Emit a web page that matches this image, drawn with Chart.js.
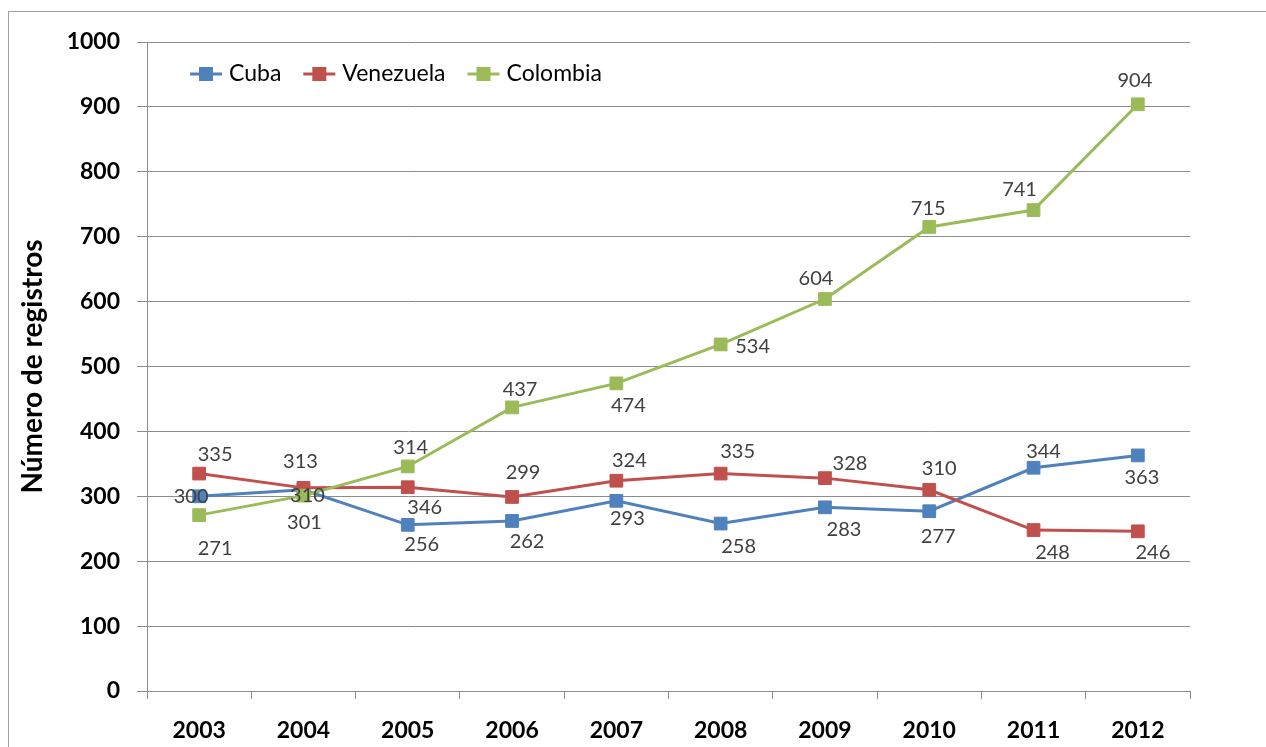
<!DOCTYPE html>
<html>
<head>
<meta charset="utf-8">
<script src="https://cdn.jsdelivr.net/npm/chart.js@4"></script>
<style>
  html, body { margin: 0; padding: 0; background: #fff; }
  canvas { display: block; }
</style>
</head>
<body>
<canvas id="registrosChart" width="1266" height="747"></canvas>
<script>
// data
const years = ['2003', '2004', '2005', '2006', '2007', '2008', '2009', '2010', '2011', '2012'];
const cuba = [300, 310, 256, 262, 293, 258, 283, 277, 344, 363];
const venezuela = [335, 313, 314, 299, 324, 335, 328, 310, 248, 246];
const colombia = [271, 301, 346, 437, 474, 534, 604, 715, 741, 904];
const seriesNames = ['Cuba', 'Venezuela', 'Colombia'];
const yTicks = [0, 100, 200, 300, 400, 500, 600, 700, 800, 900, 1000];

// where each value label sits relative to its marker (dx, dy in px)
const labelOffsets = [
  [[-8, 0], [4, 6], [14, 20], [15, 21], [11, 18], [18, 23], [19, 22], [9, 25], [10, -16], [4, 22]],
  [[16, -19], [-3, -26], [3, -40], [11, -24], [13, -20], [17, -22], [25, -15], [10, -21], [19, 22], [15, 21]],
  [[16, 33], [1, 27], [17, 41], [8, -18], [12, 22], [32, 2], [-9, -20], [-1, -18], [-14, -21], [-3, -24]]
];

const colors = ['#4F81BD', '#C0504D', '#9BBB59'];
const gridColor = '#8c8c8c';
const fontFamily = 'Lato, "Open Sans", "Liberation Sans", sans-serif';

const makeDataset = (i, values, order) => ({
  label: seriesNames[i],
  data: values,
  borderColor: colors[i],
  backgroundColor: colors[i],
  borderWidth: 3,
  pointStyle: 'rect',
  pointRadius: 9,
  pointBorderWidth: 1,
  pointBorderColor: colors[i],
  pointBackgroundColor: colors[i],
  tension: 0,
  order: order
});

// outer frame around the whole chart
const framePlugin = {
  id: 'frame',
  beforeDraw(chart) {
    const ctx = chart.ctx;
    ctx.save();
    ctx.fillStyle = '#fff';
    ctx.fillRect(0, 0, chart.width, chart.height);
    ctx.strokeStyle = '#a0a0a0';
    ctx.lineWidth = 1;
    ctx.strokeRect(8.5, 11.5, chart.width + 20, chart.height + 20);
    ctx.restore();
  }
};

// value labels next to every marker
const valueLabels = {
  id: 'valueLabels',
  afterDatasetsDraw(chart) {
    const ctx = chart.ctx;
    ctx.save();
    ctx.font = '20px ' + fontFamily;
    ctx.fillStyle = '#404040';
    ctx.textAlign = 'center';
    ctx.textBaseline = 'middle';
    chart.data.datasets.forEach((ds, di) => {
      const meta = chart.getDatasetMeta(di);
      meta.data.forEach((pt, i) => {
        const off = labelOffsets[di][i];
        ctx.fillText(String(ds.data[i]), pt.x + off[0], pt.y + off[1]);
      });
    });
    ctx.restore();
  }
};

// Excel style legend: line with a square marker, inside the plot
const excelLegend = {
  id: 'excelLegend',
  afterDraw(chart) {
    const ctx = chart.ctx;
    const y = 74;
    let x = 190;
    ctx.save();
    ctx.font = '23px ' + fontFamily;
    ctx.textBaseline = 'middle';
    chart.data.datasets.forEach((ds) => {
      ctx.strokeStyle = ds.borderColor;
      ctx.lineWidth = 3;
      ctx.beginPath();
      ctx.moveTo(x, y);
      ctx.lineTo(x + 32, y);
      ctx.stroke();
      ctx.fillStyle = ds.borderColor;
      ctx.fillRect(x + 9, y - 7, 14, 14);
      ctx.fillStyle = '#000';
      ctx.fillText(ds.label, x + 39, y);
      x += 39 + ctx.measureText(ds.label).width + 22;
    });
    ctx.restore();
  }
};

const chart = new Chart(document.getElementById('registrosChart'), {
  type: 'line',
  data: {
    labels: years,
    datasets: [
      makeDataset(0, cuba, 2),
      makeDataset(1, venezuela, 1),
      makeDataset(2, colombia, 0)
    ]
  },
  options: {
    responsive: false,
    animation: false,
    layout: { padding: { left: 0, top: 42, right: 76, bottom: 0 } },
    plugins: {
      legend: { display: false },
      tooltip: { enabled: false }
    },
    scales: {
      x: {
        offset: true,
        afterFit: (scale) => { scale.height = 56; },
        grid: {
          offset: true,
          drawOnChartArea: false,
          drawTicks: true,
          tickLength: 8,
          color: gridColor
        },
        border: { display: true, color: gridColor, width: 1 },
        ticks: {
          color: '#000',
          padding: 18,
          font: { family: fontFamily, size: 23, weight: 'bold' }
        }
      },
      y: {
        min: 0,
        max: 1000,
        afterFit: (scale) => { scale.width = 147; },
        afterBuildTicks: (scale) => { scale.ticks = yTicks.map(v => ({ value: v })); },
        grid: { color: gridColor, tickLength: 10 },
        border: { display: true, color: gridColor, width: 1 },
        ticks: {
          color: '#000',
          padding: 17,
          font: { family: fontFamily, size: 23, weight: 'bold' },
          callback: (v) => String(v)
        },
        title: {
          display: true,
          text: 'Número de registros',
          color: '#000',
          padding: { top: 16, bottom: 0 },
          font: { family: fontFamily, size: 28, weight: 'bold' }
        }
      }
    }
  },
  plugins: [framePlugin, valueLabels, excelLegend]
});
</script>
</body>
</html>
